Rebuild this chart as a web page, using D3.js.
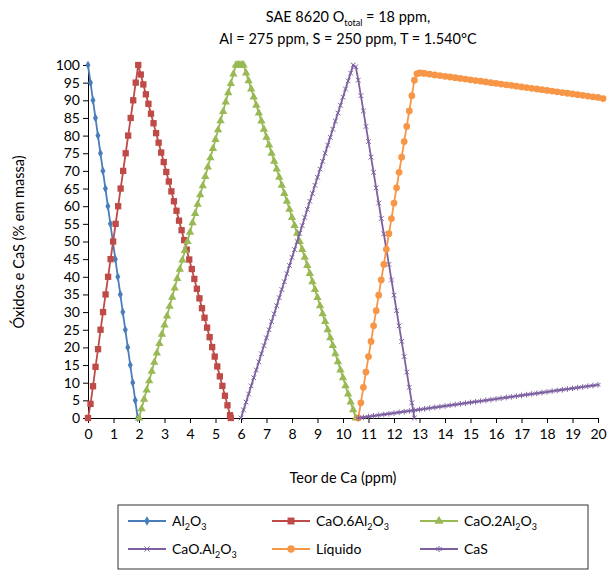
<!DOCTYPE html>
<html><head><meta charset="utf-8">
<script src="https://cdn.jsdelivr.net/npm/d3@7"></script>
<style>body{margin:0;background:#fff;font-family:Lato,"Open Sans",sans-serif}</style>
</head><body><svg id="c" width="608" height="572"></svg>
<script>
const xTicks = d3.range(0,21,1);
const yTicks = d3.range(0,101,5);
// each series: segments of {x0, dx, ys}
const al2o3 = [{x0:0,dx:0.0975,ys:[100,95,90,85,80,75,70,65,60,55,50,45,40,35,30,25,20,15,10,5,0]}];
const cao6 = [
 {x0:0,dx:0.0985,ys:[0,4,9,14.5,19.5,25,30,35,40,45,50,55,60,65,70,75,80,85,90,95,100]},
 {x0:2.07,dx:0.1,ys:[97.3,94.5,91.7,89,86.2,83.5,80.7,78,75.2,72.5,69.7,67,64.2,61.4,58.7,55.9,53.2,50.4,47.7,44.9,42.2,39.4,36.6,33.9,31.1,28.4,25.6,22.9,20.1,17.4,14.6,11.8,9.1,6.3,3.6,0.8]},
 {x0:5.6,dx:0.1,ys:[0]}];
const cao2 = [
 {x0:2.0,dx:0.1,ys:[0,2.6,5.3,7.9,10.5,13.2,15.8,18.4,21.1,23.7,26.3,28.9,31.6,34.2,36.8,39.5,42.1,44.7,47.4,50,52.6,55.3,57.9,60.5,63.2,65.8,68.4,71.1,73.7,76.3,78.9,81.6,84.2,86.8,89.5,92.1,94.7,97.4,100]},
 {x0:5.85,dx:0.05,ys:[100,100,100,100,100,100]},
 {x0:6.2,dx:0.1,ys:[97.7,95.5,93.2,90.9,88.6,86.4,84.1,81.8,79.5,77.3,75,72.7,70.5,68.2,65.9,63.6,61.4,59.1,56.8,54.5,52.3,50,47.7,45.5,43.2,40.9,38.6,36.4,34.1,31.8,29.5,27.3,25,22.7,20.5,18.2,15.9,13.6,11.4,9.1,6.8,4.5,2.3,0]}];
const caoal = [
 {x0:6.0,dx:0.1,ys:[0,2.3,4.5,6.8,9.1,11.4,13.6,15.9,18.2,20.5,22.7,25,27.3,29.5,31.8,34.1,36.4,38.6,40.9,43.2,45.5,47.7,50,52.3,54.5,56.8,59.1,61.4,63.6,65.9,68.2,70.5,72.7,75,77.3,79.5,81.8,84.1,86.4,88.6,90.9,93.2,95.5,97.7,100]},
 {x0:10.5,dx:0.1,ys:[99.5,95.7,91.3,87,82.6,78.3,73.9,69.6,65.2,60.9,56.5,52.2,47.8,43.5,39.1,34.8,30.4,26.1,21.7,17.4,13,8.7,4.3,0]}];
const liq = [
 {x0:10.6,dx:0.1,ys:[0,4.3,8.7,13,17.4,21.7,26.1,30.4,34.8,39.1,43.5,47.8,52.2,56.5,60.9,65.2,69.6,73.9,78.3,82.6,87,91.3,95.7]},
 {x0:12.9,dx:0.1,ys:[97.5,97.8,97.7]},
 {x0:13.2,dx:0.2,ys:[97.6,97.4,97.2,97.0,96.8,96.6,96.4,96.2,96.0,95.8,95.6,95.4,95.2,95.0,94.8,94.6,94.4,94.2,94.0,93.8,93.6,93.4,93.2,93.0,92.8,92.6,92.4,92.2,92.0,91.8,91.6,91.4,91.2,91.0,90.8,90.5]}];
const cas = [{x0:10.6,dx:0.2,ys:[0,0.2,0.4,0.6,0.8,1.0,1.2,1.4,1.6,1.8,2.0,2.2,2.4,2.6,2.8,3.0,3.2,3.4,3.6,3.8,4.0,4.2,4.4,4.6,4.8,5.0,5.2,5.4,5.6,5.8,6.0,6.2,6.4,6.6,6.8,7.0,7.2,7.4,7.6,7.8,8.0,8.2,8.4,8.6,8.8,9.0,9.2,9.4]}];

const series = [
 {name:["Al","2","O","3",""],data:al2o3,color:"#4a7ebb",sym:d3.symbolDiamond,size:22},
 {name:["CaO.6Al","2","O","3",""],data:cao6,color:"#be4b48",sym:d3.symbolSquare,size:40},
 {name:["CaO.2Al","2","O","3",""],data:cao2,color:"#98b954",sym:d3.symbolTriangle,size:30},
 {name:["CaO.Al","2","O","3",""],data:caoal,color:"#7d60a0",sym:d3.symbolX,size:16},
 {name:["Líquido"],data:liq,color:"#f79646",sym:d3.symbolCircle,size:36},
 {name:["CaS"],data:cas,color:"#7d60a0",sym:d3.symbolAsterisk,size:22}
];
const svg = d3.select("#c");
const m = {l:88,r:598,t:65,b:418};
const x = d3.scaleLinear().domain([0,20]).range([m.l,m.r]);
const y = d3.scaleLinear().domain([0,100]).range([m.b,m.t]);
const pts = s => s.data.flatMap(g=>g.ys.map((v,i)=>[g.x0+i*g.dx,v]));

const ty = svg.append("text").attr("x",348).attr("y",22).attr("text-anchor","middle").attr("font-size",14.5);
ty.append("tspan").text("SAE 8620 O");
ty.append("tspan").attr("font-size",9).attr("dy",4).text("total");
ty.append("tspan").attr("dy",-4).text(" = 18 ppm,");
svg.append("text").attr("x",348).attr("y",44).attr("text-anchor","middle").attr("font-size",14.5).text("Al = 275 ppm, S = 250 ppm, T = 1.540°C");

const ya = svg.append("g").attr("transform",`translate(${m.l},0)`).call(d3.axisLeft(y).tickValues(yTicks).tickSize(5).tickSizeOuter(0));
const xa = svg.append("g").attr("transform",`translate(0,${m.b})`).call(d3.axisBottom(x).tickValues(xTicks).tickSize(5).tickSizeOuter(0));
[ya,xa].forEach(a=>{a.selectAll("text").attr("font-size",14).attr("font-family","Lato").attr("fill","#000");a.selectAll("path,line").attr("stroke","#000");});
xa.selectAll("text").attr("dy","0.95em");
svg.append("text").attr("transform","translate(24,242) rotate(-90)").attr("text-anchor","middle").attr("font-size",14.5).text("Óxidos e CaS (% em massa)");
svg.append("text").attr("x",343).attr("y",483).attr("text-anchor","middle").attr("font-size",14.5).text("Teor de Ca (ppm)");

const line = d3.line().x(d=>x(d[0])).y(d=>y(d[1]));
series.forEach(s=>{
  const p = pts(s);
  svg.append("path").attr("d",line(p)).attr("fill","none").attr("stroke",s.color).attr("stroke-width",1.8);
  const sym = d3.symbol().type(s.sym).size(s.size);
  const open = s.sym===d3.symbolX||s.sym===d3.symbolAsterisk;
  svg.append("g").selectAll("path").data(p).join("path")
    .attr("transform",d=>`translate(${x(d[0])},${y(d[1])})`).attr("d",sym)
    .attr("fill",open?"none":s.color).attr("stroke",open?s.color:"none").attr("stroke-width",1);
});

svg.append("rect").attr("x",118).attr("y",505).attr("width",470).attr("height",64).attr("fill","none").attr("stroke","#000").attr("stroke-width",0.8);
const lx=[128,272,420], lyy=[521,549];
series.forEach((s,i)=>{
  const cx=lx[i%3], cy=lyy[Math.floor(i/3)];
  svg.append("line").attr("x1",cx).attr("x2",cx+38).attr("y1",cy).attr("y2",cy).attr("stroke",s.color).attr("stroke-width",1.8);
  const open = s.sym===d3.symbolX||s.sym===d3.symbolAsterisk;
  svg.append("path").attr("transform",`translate(${cx+19},${cy})`).attr("d",d3.symbol().type(s.sym).size(s.size*1.2)())
    .attr("fill",open?"none":s.color).attr("stroke",open?s.color:"none");
  const t = svg.append("text").attr("x",cx+44).attr("y",cy+5).attr("font-size",14);
  const n=s.name;
  if(n.length===1) t.text(n[0]); else {
    t.append("tspan").text(n[0]); t.append("tspan").attr("font-size",9).attr("dy",4).text(n[1]);
    t.append("tspan").attr("dy",-4).text(n[2]); t.append("tspan").attr("font-size",9).attr("dy",4).text(n[3]);
  }
});
</script></body></html>
